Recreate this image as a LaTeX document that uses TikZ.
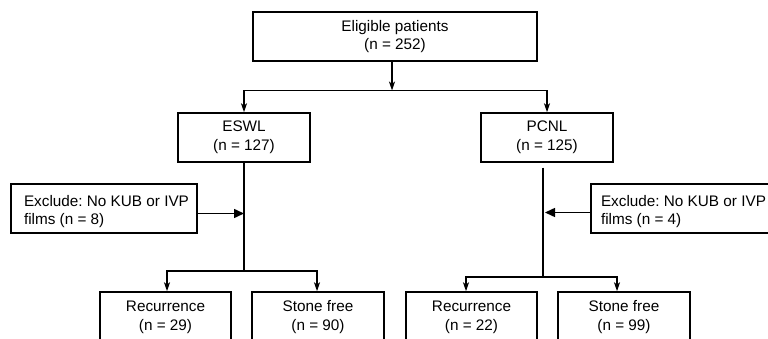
\documentclass[tikz,border=0pt]{standalone}
\usepackage{fontspec}
\setmainfont{Liberation Sans}
\usetikzlibrary{arrows.meta}
\newcommand\topstrut{\rule{0pt}{17pt}}
\frenchspacing
\begin{document}
\begin{tikzpicture}[x=1pt,y=-1pt,
  box/.style={draw, line width=1.5pt, inner sep=0pt, align=center,
    font=\fontsize{15.3}{18.8}\selectfont\frenchspacing, execute at begin node=\topstrut},
  exbox/.style={box, align=flush left, text width=160pt, inner xsep=13pt, minimum height=49pt},
  arr/.style={line width=1.5pt, -{Stealth[length=9pt,width=6pt,inset=2.5pt]}},
  tri/.style={line width=1.5pt, -{Triangle[length=10pt,width=9pt]}},
  ln/.style={line width=1.5pt}]
\useasboundingbox (0,0) rectangle (768,339);
\fill[white] (0,0) rectangle (768,339);
\clip (0,0) rectangle (768,339);
% nodes
\node[box, minimum width=284pt, minimum height=49pt] (top) at (395,36.5) {Eligible patients\\(n = 252)};
\node[box, minimum width=132pt, minimum height=49pt] (eswl) at (244,137.5) {ESWL\\(n = 127)};
\node[box, minimum width=132pt, minimum height=49pt] (pcnl) at (547,137.5) {PCNL\\(n = 125)};
\node[exbox] (exL) at (104,208.5) {\mbox{Exclude: No KUB or IVP}\\\mbox{films (n = 8)}};
\node[exbox, text width=166pt, inner xsep=10pt] (exR) at (684,208.5) {\mbox{Exclude: No KUB or IVP}\\\mbox{films (n = 4)}};
\node[box, minimum width=131pt, minimum height=50pt] (recL) at (165.5,317) {Recurrence\\(n = 29)};
\node[box, minimum width=132pt, minimum height=50pt] (sfL) at (318,317) {Stone free\\(n = 90)};
\node[box, minimum width=131pt, minimum height=50pt] (recR) at (471.5,317) {Recurrence\\(n = 22)};
\node[box, minimum width=132pt, minimum height=50pt] (sfR) at (624,317) {Stone free\\(n = 99)};
% split coordinates
\coordinate (s1) at (392,90.5);
\coordinate (s2) at (244,271);
\coordinate (s3) at (543,277);
% top split
\draw[arr] (top.south -| s1) -- (s1);
\draw[ln] (s1) -- (s1 -| eswl.north);
\draw[ln] (s1) -- (s1 -| pcnl.north);
\draw[arr] (s1 -| eswl.north) -- (eswl.north);
\draw[arr] (s1 -| pcnl.north) -- (pcnl.north);
% ESWL branch
\draw[ln] (eswl.south) -- (s2);
\draw[tri] ([yshift=-5pt]exL.east) -- ([yshift=-5pt]exL.east -| s2);
\draw[arr, line cap=rect] (s2) -| ([xshift=1.5pt]recL.north);
\draw[arr, line cap=rect] (s2) -| ([xshift=-1pt]sfL.north);
% PCNL branch
\draw[ln, shorten <=5pt] (pcnl.south -| s3) -- (s3);
\draw[tri] ([yshift=-4pt]exR.west) -- ([yshift=-4pt,xshift=2pt]exR.west -| s3);
\draw[arr, line cap=rect] (s3) -| ([xshift=-5.5pt]recR.north);
\draw[arr, line cap=rect] (s3) -| ([xshift=-7pt]sfR.north);
\end{tikzpicture}
\end{document}
